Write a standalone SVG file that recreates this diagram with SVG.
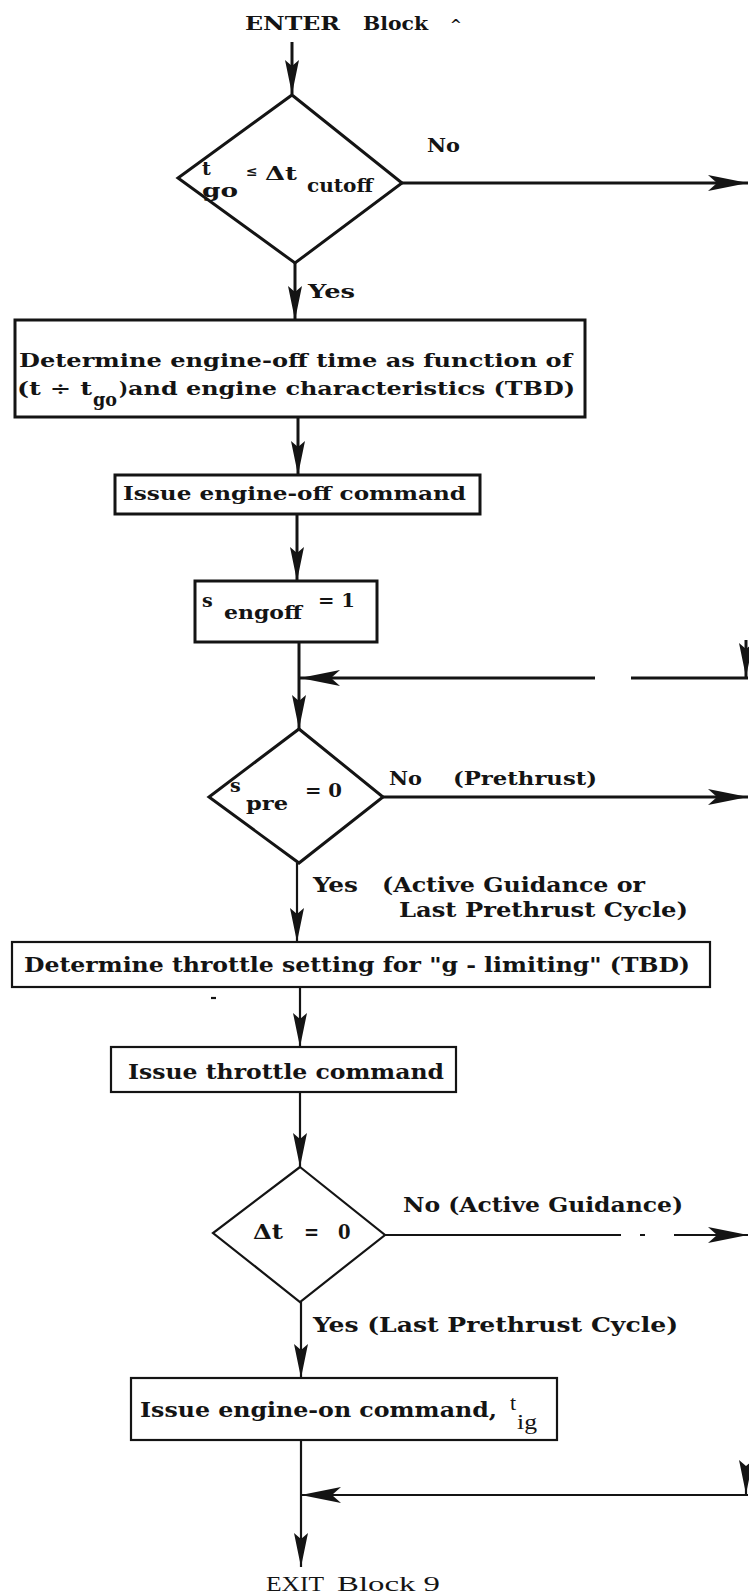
<svg xmlns="http://www.w3.org/2000/svg" width="749" height="1595" viewBox="0 0 749 1595">
  <style>
    .ln{fill:none;stroke:#141414;stroke-width:3}
    .ln2{fill:none;stroke:#141414;stroke-width:2.2}
    .box{fill:none;stroke:#141414;stroke-width:3}
    .box2{fill:none;stroke:#141414;stroke-width:2.2}
    text{fill:#141414}
    .b{font-family:"DejaVu Serif","Liberation Serif",serif;font-weight:bold;font-size:19px}
    .c{font-family:"DejaVu Serif Condensed","DejaVu Serif","Liberation Serif",serif;font-weight:bold;font-size:20px;font-stretch:condensed}
    .sm{font-size:14px}
    .r{font-family:"Liberation Serif",serif;font-size:22px}
  </style>
  <defs>
    <marker id="ah" viewBox="0 0 34 14" refX="34" refY="7" markerWidth="34" markerHeight="14" markerUnits="userSpaceOnUse" orient="auto">
      <path d="M0,0 L34,7 L0,14 L6,7 Z" fill="#141414"/>
    </marker>
    <marker id="ahw" viewBox="0 0 40 16" refX="40" refY="8" markerWidth="40" markerHeight="16" markerUnits="userSpaceOnUse" orient="auto">
      <path d="M0,0 L40,8 L0,16 L9,8 Z" fill="#141414"/>
    </marker>
  </defs>
  <rect width="749" height="1595" fill="#ffffff"/>

  <!-- connectors -->
  <g id="connectors">
    <path class="ln" d="M292,42 V94" marker-end="url(#ah)"/>
    <path class="ln" d="M402,183 H748" marker-end="url(#ahw)"/>
    <path class="ln" d="M295,263 V320" marker-end="url(#ah)"/>
    <path class="ln" d="M298,417 V475" marker-end="url(#ah)"/>
    <path class="ln" d="M297,514 V581" marker-end="url(#ah)"/>
    <path class="ln" d="M299,642 V729" marker-end="url(#ah)"/>
    <path class="ln" d="M748,678 H631"/>
    <path class="ln" d="M595,678 H300" marker-end="url(#ahw)"/>
    <path class="ln" d="M746,640 V677" marker-end="url(#ah)"/>
    <path class="ln" d="M383,797 H748" marker-end="url(#ahw)"/>
    <path class="ln2" d="M297,863 V942" marker-end="url(#ah)"/>
    <path class="ln2" d="M300,987 V1047" marker-end="url(#ah)"/>
    <path class="ln2" d="M300,1092 V1167" marker-end="url(#ah)"/>
    <path class="ln2" d="M385,1235 H621 M640,1235 H645"/>
    <path class="ln2" d="M674,1235 H748" marker-end="url(#ahw)"/>
    <path class="ln2" d="M301,1302 V1378" marker-end="url(#ah)"/>
    <path class="ln2" d="M301,1440 V1567" marker-end="url(#ah)"/>
    <path class="ln2" d="M748,1495 H301" marker-end="url(#ahw)"/>
    <path class="ln2" d="M746,1472 V1494" marker-end="url(#ah)"/>
    <path class="ln2" d="M211,998 H216"/>
  </g>

  <!-- entry -->
  <g id="enter">
    <text class="b" x="245" y="30" textLength="95" lengthAdjust="spacingAndGlyphs">ENTER</text>
    <text class="b" x="363" y="30" textLength="65" lengthAdjust="spacingAndGlyphs">Block</text>
    <text class="b sm" x="450" y="30">^</text>
  </g>

  <!-- decision: t_go <= dt_cutoff -->
  <g id="dec-cutoff">
    <polygon class="box" points="292,95 402,183 295,263 178,178"/>
    <text class="b" x="202" y="175">t</text>
    <text class="b" x="202" y="197" font-size="18" textLength="36" lengthAdjust="spacingAndGlyphs">go</text>
    <text class="b sm" x="246" y="176">≤</text>
    <text class="b" x="265" y="180" textLength="32" lengthAdjust="spacingAndGlyphs">Δt</text>
    <text class="b" x="307" y="192" textLength="66" lengthAdjust="spacingAndGlyphs">cutoff</text>
    <text class="b" x="427" y="152" textLength="33" lengthAdjust="spacingAndGlyphs">No</text>
    <text class="b" x="308" y="298" textLength="47" lengthAdjust="spacingAndGlyphs">Yes</text>
  </g>

  <!-- engine-off time -->
  <g id="box-engoff-time">
    <rect class="box" x="15" y="320" width="570" height="97"/>
    <text class="b" x="19" y="367" textLength="553" lengthAdjust="spacingAndGlyphs">Determine engine-off time as function of</text>
    <text class="b" x="17" y="395" textLength="75" lengthAdjust="spacingAndGlyphs">(t ÷ t</text>
    <text class="b" x="93" y="406" textLength="24" lengthAdjust="spacingAndGlyphs">go</text>
    <text class="b" x="119" y="395">)</text>
    <text class="b" x="128" y="395" textLength="447" lengthAdjust="spacingAndGlyphs">and engine characteristics (TBD)</text>
  </g>

  <!-- engine-off command -->
  <g id="box-engoff-cmd">
    <rect class="box" x="115" y="475" width="365" height="39"/>
    <text class="b" x="123" y="500" textLength="343" lengthAdjust="spacingAndGlyphs">Issue engine-off command</text>
  </g>

  <!-- s_engoff = 1 -->
  <g id="box-sengoff">
    <rect class="box" x="195" y="581" width="182" height="61"/>
    <text class="b" x="202" y="607">s</text>
    <text class="b" x="224" y="619" textLength="78" lengthAdjust="spacingAndGlyphs">engoff</text>
    <text class="b" x="318" y="607" textLength="37" lengthAdjust="spacingAndGlyphs">= 1</text>
  </g>

  <!-- decision: s_pre = 0 -->
  <g id="dec-spre">
    <polygon class="box" points="299,729 383,797 299,863 209,797"/>
    <text class="b" x="230" y="792">s</text>
    <text class="b" x="246" y="810" textLength="42" lengthAdjust="spacingAndGlyphs">pre</text>
    <text class="b" x="305" y="797" textLength="37" lengthAdjust="spacingAndGlyphs">= 0</text>
    <text class="b" x="389" y="785" textLength="33" lengthAdjust="spacingAndGlyphs">No</text>
    <text class="b" x="453" y="785" textLength="144" lengthAdjust="spacingAndGlyphs">(Prethrust)</text>
    <text class="c" x="313" y="892" textLength="45" lengthAdjust="spacingAndGlyphs">Yes</text>
    <text class="c" x="382" y="892" textLength="263" lengthAdjust="spacingAndGlyphs">(Active Guidance or</text>
    <text class="c" x="399" y="917" textLength="289" lengthAdjust="spacingAndGlyphs">Last Prethrust Cycle)</text>
  </g>

  <!-- throttle setting -->
  <g id="box-throttle-set">
    <rect class="box2" x="12" y="942" width="698" height="45"/>
    <text class="c" x="24" y="972" textLength="666" lengthAdjust="spacingAndGlyphs">Determine throttle setting for "g - limiting" (TBD)</text>
  </g>

  <!-- throttle command -->
  <g id="box-throttle-cmd">
    <rect class="box2" x="111" y="1047" width="345" height="45"/>
    <text class="c" x="128" y="1079" textLength="316" lengthAdjust="spacingAndGlyphs">Issue  throttle command</text>
  </g>

  <!-- decision: dt = 0 -->
  <g id="dec-dt">
    <polygon class="box2" points="300,1167 385,1235 300,1302 213,1233"/>
    <text class="c" x="253" y="1239" textLength="30" lengthAdjust="spacingAndGlyphs">Δt</text>
    <text class="c" x="304" y="1239">=</text>
    <text class="c" x="338" y="1239">0</text>
    <text class="c" x="403" y="1212" textLength="280" lengthAdjust="spacingAndGlyphs">No  (Active Guidance)</text>
    <text class="c" x="313" y="1332" textLength="365" lengthAdjust="spacingAndGlyphs">Yes  (Last Prethrust Cycle)</text>
  </g>

  <!-- engine-on command -->
  <g id="box-engon-cmd">
    <rect class="box2" x="131" y="1378" width="426" height="62"/>
    <text class="c" x="140" y="1417" textLength="357" lengthAdjust="spacingAndGlyphs">Issue engine-on command,</text>
    <text class="r sm" x="510" y="1410">t</text>
    <text class="r" x="517" y="1429" font-size="17" textLength="20" lengthAdjust="spacingAndGlyphs">ig</text>
  </g>

  <!-- exit -->
  <g id="exit">
    <text class="r" x="266" y="1591" textLength="58" lengthAdjust="spacingAndGlyphs">EXIT</text>
    <text class="r" x="337" y="1591" textLength="103" lengthAdjust="spacingAndGlyphs">Block 9</text>
  </g>
</svg>
